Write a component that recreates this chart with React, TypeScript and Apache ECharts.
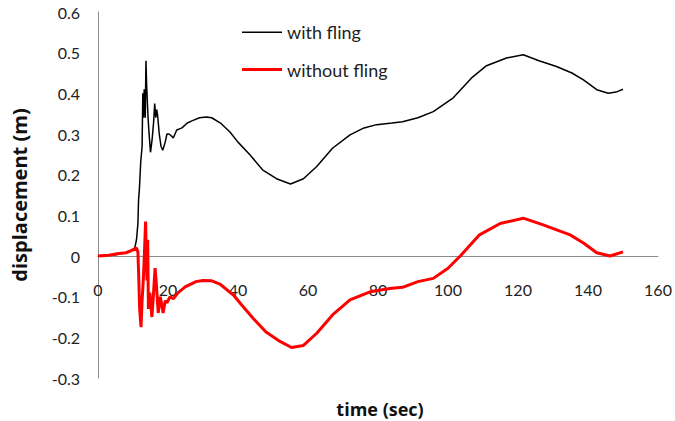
import React, { useEffect, useRef } from "react";
import * as echarts from "echarts";

const withFlingTime = [
  0, 5, 9, 10.5, 11, 11.4, 11.6, 11.8, 12.2, 12.6, 12.8, 13.0, 13.2, 13.5, 13.7, 13.9,
  14.3, 14.6, 15.0, 15.5, 15.9, 16.2, 16.5, 16.8, 17.1, 17.5, 18.0, 18.5, 19.2, 19.7,
  20.3, 21.0, 21.5, 22.5, 24, 25.5, 27, 29, 31, 32.5, 35, 37.7, 40, 43.4, 47, 51, 55,
  58.7, 62.5, 67, 72, 76, 79.6, 84, 87, 91.4, 95.8, 101.5, 107, 111, 116.7, 121.5, 126,
  131, 135.4, 138.7, 142.5, 145.8, 148, 150,
];
const withFlingValue = [
  0, 0.003, 0.01, 0.02, 0.04, 0.08, 0.14, 0.16, 0.23, 0.27, 0.4, 0.34, 0.41, 0.34, 0.48, 0.42,
  0.34, 0.3, 0.255, 0.29, 0.33, 0.375, 0.34, 0.36, 0.34, 0.3, 0.27, 0.26, 0.28, 0.3,
  0.3, 0.295, 0.29, 0.31, 0.315, 0.327, 0.333, 0.34, 0.342, 0.34, 0.327, 0.305, 0.28, 0.249,
  0.212, 0.19, 0.177, 0.19, 0.22, 0.265, 0.298, 0.315, 0.323, 0.327, 0.33, 0.34, 0.355,
  0.389, 0.44, 0.468, 0.487, 0.495, 0.48, 0.466, 0.45, 0.433, 0.409, 0.4, 0.403, 0.41,
];

const withoutFlingTime = [
  0, 3, 6, 8, 10, 11, 11.4, 11.6, 11.9, 12.3, 12.6, 13.0, 13.3, 13.6, 13.8, 14.0, 14.2,
  14.4, 14.8, 15.4, 15.8, 16.3, 16.6, 17.2, 17.8, 18.2, 18.6, 19.2, 19.7, 20.6, 21.5,
  22.9, 24.9, 28, 30, 32.5, 35, 38.7, 41, 44.3, 48, 52, 55.3, 58.7, 62.5, 67, 72, 77.7,
  83.4, 87, 91.4, 95.8, 100, 103.5, 109, 114.9, 121.5, 127, 134.9, 138.7, 142.5, 146.3,
  150,
];
const withoutFlingValue = [
  0, 0.002, 0.006, 0.008, 0.015, 0.02, 0.01, -0.04, -0.13, -0.175, -0.11, -0.05, 0.015,
  0.085, 0.0, -0.06, 0.04, -0.13, -0.09, -0.15, -0.1, -0.03, -0.06, -0.14, -0.1, -0.12,
  -0.14, -0.11, -0.115, -0.1, -0.105, -0.09, -0.076, -0.063, -0.06, -0.061, -0.07, -0.096,
  -0.12, -0.153, -0.187, -0.21, -0.225, -0.22, -0.19, -0.145, -0.108, -0.088, -0.08,
  -0.077, -0.063, -0.055, -0.03, 0.0, 0.052, 0.08, 0.093, 0.077, 0.052, 0.032, 0.008, 0.0,
  0.01,
];

const seriesNames = ["with fling", "without fling"];
const xTitle = "time (sec)";
const yTitle = "displacement (m)";

const pair = (t: number[], v: number[]) => t.map((x, i) => [x, v[i]]);

export default function App() {
  const ref = useRef<HTMLDivElement>(null);
  useEffect(() => {
    if (!ref.current) return;
    const chart = echarts.init(ref.current, undefined, { renderer: "svg" });
    const font = "Lato, 'Open Sans', sans-serif";
    const titleFont = "'Open Sans', Lato, sans-serif";
    const legendText = { fontFamily: font, fontSize: 18, color: "#222" };
    chart.setOption({
      animation: false,
      backgroundColor: "#ffffff",
      textStyle: { fontFamily: font },
      grid: {
        left: 98,
        right: 17,
        top: 12,
        bottom: 43,
        containLabel: false,
        outerBoundsMode: "none",
      },
      legend: [
        {
          left: 242,
          top: 24 - 0.75,
          padding: 0,
          itemWidth: 40,
          itemHeight: 1.5,
          icon: "rect",
          textStyle: legendText,
          data: [seriesNames[0]],
        },
        {
          left: 242,
          top: 62 - 1.5,
          padding: 0,
          itemWidth: 40,
          itemHeight: 3,
          icon: "rect",
          textStyle: legendText,
          data: [seriesNames[1]],
        },
      ],
      xAxis: {
        type: "value",
        min: 0,
        max: 160,
        interval: 20,
        offset: -122,
        axisLine: { onZero: false, lineStyle: { color: "#8c8c8c", width: 1 } },
        axisTick: { show: false },
        splitLine: { show: false },
        axisLabel: { fontFamily: font, fontSize: 16, color: "#222", margin: 25 },
      },
      yAxis: {
        type: "value",
        min: -0.3,
        max: 0.6,
        interval: 0.1,
        name: yTitle,
        nameLocation: "middle",
        nameGap: 69,
        nameTextStyle: { fontFamily: titleFont, fontSize: 20, fontWeight: "bold", color: "#111" },
        axisLine: { show: true, onZero: false, lineStyle: { color: "#8c8c8c", width: 1 } },
        axisTick: { show: false },
        splitLine: { show: false },
        axisLabel: {
          fontFamily: font,
          fontSize: 16,
          color: "#222",
          margin: 18,
          formatter: (v: number) => String(Math.round(v * 10) / 10),
        },
      },
      graphic: [
        {
          type: "text",
          x: 380,
          y: 409,
          style: {
            text: xTitle,
            font: `bold 18px ${titleFont}`,
            fill: "#111",
            align: "center",
            verticalAlign: "middle",
          },
        },
      ],
      series: [
        {
          name: seriesNames[0],
          type: "line",
          data: pair(withFlingTime, withFlingValue),
          symbol: "none",
          lineStyle: { color: "#000000", width: 1.5 },
          itemStyle: { color: "#000000" },
        },
        {
          name: seriesNames[1],
          type: "line",
          data: pair(withoutFlingTime, withoutFlingValue),
          symbol: "none",
          lineStyle: { color: "#ff0000", width: 3 },
          itemStyle: { color: "#ff0000" },
        },
      ],
    });
    return () => chart.dispose();
  }, []);
  return (
    <div
      ref={ref}
      style={{ position: "absolute", left: 0, top: 0, width: 675, height: 421 }}
    />
  );
}
